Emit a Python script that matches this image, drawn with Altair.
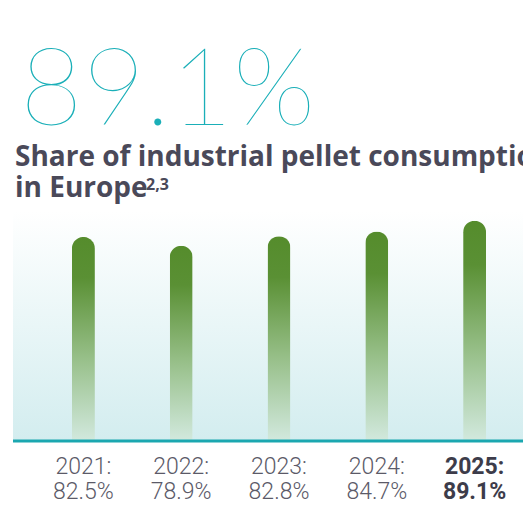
import altair as alt
import pandas as pd

# ---- data ----
YEARS = ["2021", "2022", "2023", "2024", "2025"]
SHARES = [82.5, 78.9, 82.8, 84.7, 89.1]
HEADLINE = "89.1%"
TITLE_LINES = "Share of industrial pellet consumption\nin Europe"
FOOTNOTE = "2,3"

W, H = 510, 230

df = pd.DataFrame({"year": YEARS, "share": SHARES})
df["label"] = [f"{y}:\n{v}%" for y, v in zip(YEARS, SHARES)]
df["bold"] = [y == YEARS[-1] for y in YEARS]

x_scale = alt.Scale(range=[21.5, 510.5], paddingInner=0.765, paddingOuter=0.3825)

bg_grad = alt.Gradient(
    gradient="linear",
    stops=[alt.GradientStop(offset=0, color="#ffffff"),
           alt.GradientStop(offset=1, color="#d3edef")],
    x1=0, x2=0, y1=0, y2=1,
)
bar_grad = alt.Gradient(
    gradient="linear",
    stops=[alt.GradientStop(offset=0, color="#558c2c"),
           alt.GradientStop(offset=0.2, color="#5a9034"),
           alt.GradientStop(offset=0.6, color="#98c08a"),
           alt.GradientStop(offset=1, color="#d2e9de")],
    x1=0, x2=0, y1=0, y2=1,
)

one = pd.DataFrame({"h": [HEADLINE], "t": [TITLE_LINES], "f": [FOOTNOTE]})

bg = alt.Chart(one).mark_rect(color=bg_grad).encode(
    x=alt.value(0), x2=alt.value(W), y=alt.value(0), y2=alt.value(H)
)

baseline = alt.Chart(one).mark_rule(color="#1ba7b0", strokeWidth=3).encode(
    x=alt.value(0), x2=alt.value(W), y=alt.value(H)
)

bars = alt.Chart(df).mark_bar(
    color=bar_grad, cornerRadiusTopLeft=11.5, cornerRadiusTopRight=11.5
).encode(
    x=alt.X("year:N", scale=x_scale, axis=None, sort=YEARS),
    y=alt.Y("share:Q", scale=alt.Scale(domain=[0, 93]), axis=None),
)

lab_norm = alt.Chart(df).transform_filter("!datum.bold").mark_text(
    font="Roboto", fontWeight=300, fontSize=23, color="#5b5a68",
    lineBreak="\n", lineHeight=25, baseline="alphabetic", align="center"
).encode(
    x=alt.X("year:N", scale=x_scale, axis=None, sort=YEARS),
    y=alt.value(H + 33),
    text="label:N",
)
lab_bold = alt.Chart(df).transform_filter("datum.bold").mark_text(
    font="Roboto", fontWeight="bold", fontSize=23, color="#3d3c4a",
    lineBreak="\n", lineHeight=25, baseline="alphabetic", align="center"
).encode(
    x=alt.X("year:N", scale=x_scale, axis=None, sort=YEARS),
    y=alt.value(H + 33),
    text="label:N",
)

headline = alt.Chart(one).mark_text(
    font="'Noto Sans Condensed', Lato", fontWeight=200, fontSize=108,
    color="#1aafb8", align="left", baseline="alphabetic"
).encode(x=alt.value(7), y=alt.value(-86), text="h:N")

title = alt.Chart(one).mark_text(
    font="Open Sans", fontWeight="bold", fontSize=28, color="#4a4959",
    align="left", baseline="alphabetic", lineBreak="\n", lineHeight=31
).encode(x=alt.value(2), y=alt.value(-45), text="t:N")

footnote = alt.Chart(one).mark_text(
    font="Open Sans", fontWeight="bold", fontSize=16, color="#4a4959",
    align="left", baseline="alphabetic"
).encode(x=alt.value(133), y=alt.value(-21), text="f:N")

chart = alt.layer(bg, bars, baseline, lab_norm, lab_bold, headline, title, footnote).properties(
    width=W, height=H,
    autosize=alt.AutoSizeParams(type="none"),
    padding={"left": 5, "top": 203, "right": 0, "bottom": 59},
    background="white",
).configure_view(stroke=None)

chart.save("out.html", embed_options={"renderer": "svg", "actions": False})
